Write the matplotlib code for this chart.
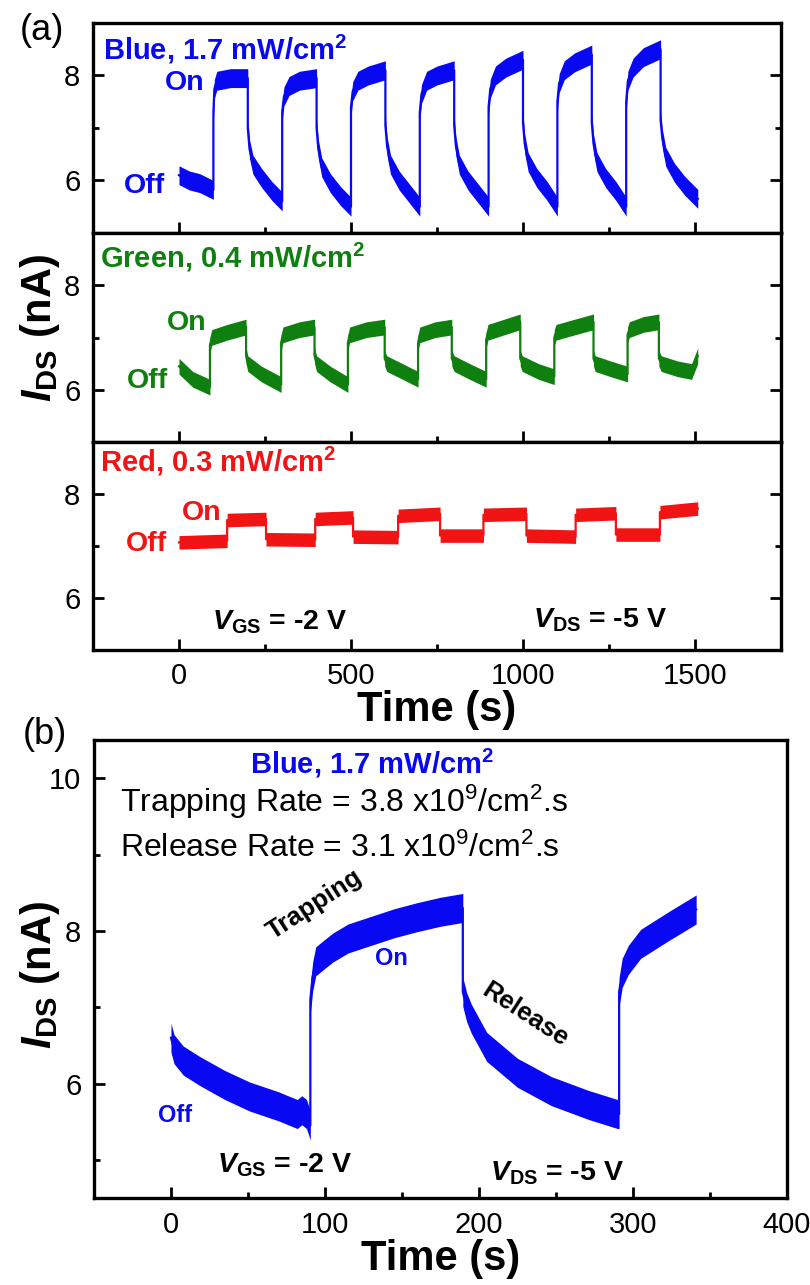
import matplotlib
matplotlib.use('Agg')
import matplotlib.pyplot as plt
from matplotlib.ticker import MultipleLocator

plt.rcParams['font.family'] = ['Liberation Sans', 'DejaVu Sans']
plt.rcParams['mathtext.fontset'] = 'custom'
plt.rcParams['mathtext.rm'] = 'Liberation Sans'
plt.rcParams['mathtext.it'] = 'Liberation Sans:italic:bold'
plt.rcParams['mathtext.bf'] = 'Liberation Sans:bold'

# ---- panel (a) traces (time s, current nA) ----
blue_t = [0, 30, 60, 100,
          100, 103, 110, 150, 200,
          200, 205, 215, 240, 270, 300,
          300, 305, 320, 350, 400,
          400, 405, 415, 440, 470, 500,
          500, 505, 520, 550, 600,
          600, 605, 615, 640, 670, 700,
          700, 705, 720, 750, 800,
          800, 805, 815, 840, 870, 900,
          900, 905, 920, 950, 1000,
          1000, 1005, 1015, 1040, 1070, 1100,
          1100, 1105, 1120, 1150, 1200,
          1200, 1205, 1215, 1240, 1270, 1300,
          1300, 1305, 1320, 1350, 1400,
          1400, 1405, 1415, 1440, 1470, 1508]
blue_i = [6.1, 6.0, 5.95, 5.82,
          7.3, 7.75, 7.9, 7.95, 7.95,
          7.0, 6.6, 6.3, 6.05, 5.8, 5.6,
          7.3, 7.6, 7.8, 7.9, 7.95,
          7.0, 6.6, 6.25, 5.95, 5.7, 5.5,
          7.4, 7.7, 7.9, 8.0, 8.1,
          7.05, 6.65, 6.3, 6.0, 5.75, 5.5,
          7.3, 7.65, 7.9, 8.0, 8.1,
          7.05, 6.65, 6.3, 6.0, 5.75, 5.5,
          7.4, 7.75, 8.0, 8.15, 8.3,
          7.1, 6.7, 6.35, 6.05, 5.8, 5.5,
          7.5, 7.85, 8.1, 8.25, 8.4,
          7.1, 6.7, 6.35, 6.05, 5.8, 5.5,
          7.5, 7.9, 8.15, 8.35, 8.5,
          7.15, 6.8, 6.45, 6.15, 5.9, 5.65]

green_t = [0, 40, 90,
           90, 95, 140, 195,
           195, 200, 240, 297,
           297, 302, 350, 394,
           394, 400, 440, 491,
           491, 496, 545, 598,
           598, 604, 650, 695,
           695, 700, 745, 793,
           793, 800, 845, 893,
           893, 898, 945, 992,
           992, 998, 1045, 1091,
           1091, 1096, 1150, 1205,
           1205, 1210, 1255, 1304,
           1304, 1309, 1350, 1395,
           1395, 1402, 1450, 1490, 1508]
green_i = [6.45, 6.2, 6.05,
           6.85, 7.0, 7.1, 7.2,
           6.65, 6.5, 6.3, 6.1,
           6.9, 7.05, 7.15, 7.2,
           6.65, 6.5, 6.3, 6.1,
           6.9, 7.05, 7.15, 7.2,
           6.6, 6.5, 6.35, 6.2,
           6.9, 7.05, 7.15, 7.2,
           6.6, 6.5, 6.35, 6.2,
           6.95, 7.1, 7.2, 7.3,
           6.6, 6.5, 6.35, 6.25,
           7.0, 7.1, 7.2, 7.3,
           6.6, 6.5, 6.4, 6.3,
           7.05, 7.15, 7.25, 7.3,
           6.6, 6.5, 6.4, 6.35, 6.65]

red_t = [0, 140, 140, 253, 253, 396, 396, 506, 506, 637, 637, 759,
         759, 885, 885, 1010, 1010, 1153, 1153, 1270, 1270, 1398, 1398, 1508]
red_i = [7.07, 7.1, 7.5, 7.52, 7.13, 7.12, 7.52, 7.55, 7.18, 7.17, 7.58, 7.62,
         7.2, 7.2, 7.6, 7.62, 7.2, 7.18, 7.6, 7.63, 7.22, 7.22, 7.65, 7.72]

# ---- panel (b) single blue cycle ----
b_t = [0, 2, 8, 19, 35, 51, 70, 82, 85, 88, 90.5,
       90.5, 92, 94, 100, 105, 115, 127, 145, 160, 175, 189.5,
       189.5, 192, 195, 205, 225, 247, 271, 290, 291,
       291, 293, 297, 305, 323, 341]
b_i = [6.6, 6.45, 6.3, 6.16, 5.98, 5.83, 5.7, 5.6, 5.65, 5.6, 5.45,
       7.1, 7.4, 7.6, 7.7, 7.78, 7.9, 7.98, 8.1, 8.18, 8.25, 8.3,
       7.2, 7.0, 6.85, 6.48, 6.14, 5.9, 5.72, 5.6, 5.6,
       7.2, 7.45, 7.62, 7.83, 8.06, 8.28]

BLUE = '#0808f2'
GREEN = '#0f7f0f'
RED = '#f01414'

fig = plt.figure(figsize=(8.1, 12.85), dpi=100)


def style(ax, right=True, top=False):
    for s in ax.spines.values():
        s.set_linewidth(2.4)
    ax.tick_params(which='both', direction='in', width=2, labelsize=21,
                   right=right, top=top, pad=9)
    ax.tick_params(which='major', length=8)
    ax.tick_params(which='minor', length=4.5)


def trace(ax, t, y, c, half):
    lo = [v - half for v in y]
    hi = [v + half for v in y]
    ax.fill_between(t, lo, hi, color=c, lw=0)
    ax.plot(t, y, color=c, lw=1.6)


W = 0.8494
panels = [
    ([0.1148, 0.8187, W, 0.1634], blue_t, blue_i, BLUE, 0.18),
    ([0.1148, 0.6560, W, 0.1627], green_t, green_i, GREEN, 0.15),
    ([0.1148, 0.4942, W, 0.1618], red_t, red_i, RED, 0.13),
]
axs = []
for rect, t, y, c, half in panels:
    ax = fig.add_axes(rect)
    trace(ax, t, y, c, half)
    ax.set_xlim(-250, 1750)
    ax.set_ylim(5, 9)
    ax.xaxis.set_major_locator(MultipleLocator(500))
    ax.xaxis.set_minor_locator(MultipleLocator(250))
    ax.yaxis.set_major_locator(MultipleLocator(2))
    ax.yaxis.set_minor_locator(MultipleLocator(1))
    style(ax)
    axs.append(ax)
axs[0].tick_params(labelbottom=False)
axs[1].tick_params(labelbottom=False)
axs[2].set_xlabel('Time (s)', fontsize=30, fontweight='bold', labelpad=0)

LS = 20.5
a0, a1, a2 = axs
a0.text(0.015, 0.824, r'Blue, 1.7 mW/cm$^\mathbf{2}$', color=BLUE, fontsize=21,
        fontweight='bold', transform=a0.transAxes)
a0.text(0.105, 0.681, 'On', color=BLUE, fontsize=LS, fontweight='bold', transform=a0.transAxes)
a0.text(0.045, 0.19, 'Off', color=BLUE, fontsize=LS, fontweight='bold', transform=a0.transAxes)
a1.text(0.010, 0.837, r'Green, 0.4 mW/cm$^\mathbf{2}$', color=GREEN, fontsize=21,
        fontweight='bold', transform=a1.transAxes)
a1.text(0.108, 0.536, 'On', color=GREEN, fontsize=LS, fontweight='bold', transform=a1.transAxes)
a1.text(0.049, 0.258, 'Off', color=GREEN, fontsize=LS, fontweight='bold', transform=a1.transAxes)
a2.text(0.010, 0.856, r'Red, 0.3 mW/cm$^\mathbf{2}$', color=RED, fontsize=21,
        fontweight='bold', transform=a2.transAxes)
a2.text(0.129, 0.625, 'On', color=RED, fontsize=LS, fontweight='bold', transform=a2.transAxes)
a2.text(0.048, 0.476, 'Off', color=RED, fontsize=LS, fontweight='bold', transform=a2.transAxes)
a2.text(0.173, 0.096, r'$V_{\mathbf{GS}}$ = -2 V', fontsize=20.5, fontweight='bold', transform=a2.transAxes)
a2.text(0.640, 0.11, r'$V_{\mathbf{DS}}$ = -5 V', fontsize=20.5, fontweight='bold', transform=a2.transAxes)

fig.text(40 / 810, 1 - 328 / 1285, r'$I_{\mathbf{DS}}$ (nA)', rotation=90, fontsize=30,
         fontweight='bold', ha='center', va='center')
fig.text(42 / 810, 1 - 30 / 1285, '(a)', fontsize=26, ha='center', va='center')

# ---- panel (b) ----
bx = fig.add_axes([0.1160, 0.0677, 0.8556, 0.3564])
trace(bx, b_t, b_i, BLUE, 0.19)
bx.set_xlim(-50, 400)
bx.set_ylim(4.5, 10.5)
bx.xaxis.set_major_locator(MultipleLocator(100))
bx.xaxis.set_minor_locator(MultipleLocator(50))
bx.yaxis.set_major_locator(MultipleLocator(2))
bx.yaxis.set_minor_locator(MultipleLocator(1))
style(bx, right=False)
bx.set_xlabel('Time (s)', fontsize=30, fontweight='bold', labelpad=0)

bx.text(0.225, 0.928, r'Blue, 1.7 mW/cm$^\mathbf{2}$', color=BLUE, fontsize=21,
        fontweight='bold', transform=bx.transAxes)
bx.text(0.0375, 0.843, r'Trapping Rate = 3.8 x10$^{9}$/cm$^{2}$.s', fontsize=23,
        transform=bx.transAxes)
bx.text(0.0375, 0.745, r'Release Rate = 3.1 x10$^{9}$/cm$^{2}$.s', fontsize=23,
        transform=bx.transAxes)
bx.text(0.319, 0.64, 'Trapping', fontsize=18.5, fontweight='bold', rotation=33,
        ha='center', va='center', transform=bx.transAxes)
bx.text(0.622, 0.40, 'Release', fontsize=18.5, fontweight='bold', rotation=-33,
        ha='center', va='center', transform=bx.transAxes)
bx.text(0.429, 0.524, 'On', color=BLUE, fontsize=17, fontweight='bold',
        ha='center', va='center', transform=bx.transAxes)
bx.text(0.117, 0.181, 'Off', color=BLUE, fontsize=17, fontweight='bold',
        ha='center', va='center', transform=bx.transAxes)
bx.text(0.177, 0.055, r'$V_{\mathbf{GS}}$ = -2 V', fontsize=20.5, fontweight='bold',
        transform=bx.transAxes)
bx.text(0.571, 0.039, r'$V_{\mathbf{DS}}$ = -5 V', fontsize=20.5, fontweight='bold',
        transform=bx.transAxes)

fig.text(40 / 810, 1 - 975 / 1285, r'$I_{\mathbf{DS}}$ (nA)', rotation=90, fontsize=30,
         fontweight='bold', ha='center', va='center')
fig.text(45 / 810, 1 - 735 / 1285, '(b)', fontsize=26, ha='center', va='center')

fig.savefig('out.png', dpi=100)
